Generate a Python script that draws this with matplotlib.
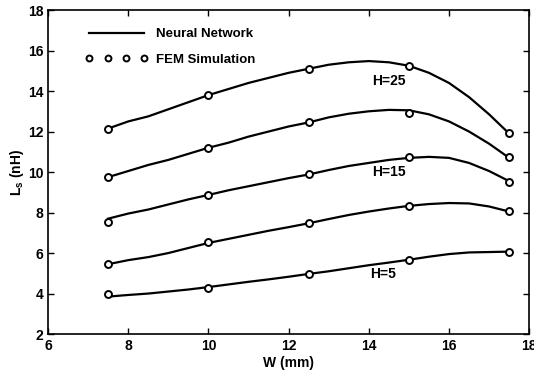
import matplotlib
matplotlib.use("Agg")
import matplotlib.pyplot as plt

plt.rcParams['font.family'] = ['Liberation Sans', 'DejaVu Sans']

# FEM simulation points
w_fem = [7.5, 10, 12.5, 15, 17.5]
fem = {
    5:  [3.98, 4.26, 4.95, 5.65, 6.07],
    10: [5.44, 6.57, 7.47, 8.34, 8.07],
    15: [7.53, 8.86, 9.88, 10.72, 9.52],
    20: [9.78, 11.2, 12.45, 12.93, 10.74],
    25: [12.15, 13.82, 15.07, 15.23, 11.91],
}

# neural network curves, every 0.5 mm
w_nn = [7.5, 8, 8.5, 9, 9.5, 10, 10.5, 11, 11.5, 12, 12.5,
        13, 13.5, 14, 14.5, 15, 15.5, 16, 16.5, 17, 17.5]
nn = {
    5:  [3.85, 3.93, 4.0, 4.1, 4.2, 4.32, 4.45, 4.58, 4.7, 4.83, 4.97,
         5.1, 5.25, 5.4, 5.53, 5.67, 5.82, 5.95, 6.03, 6.05, 6.07],
    10: [5.45, 5.65, 5.8, 6.0, 6.25, 6.5, 6.7, 6.9, 7.1, 7.28, 7.47,
         7.68, 7.88, 8.05, 8.2, 8.33, 8.42, 8.47, 8.45, 8.3, 8.05],
    15: [7.7, 7.95, 8.15, 8.4, 8.65, 8.87, 9.1, 9.3, 9.5, 9.7, 9.88,
         10.1, 10.3, 10.45, 10.6, 10.7, 10.75, 10.7, 10.45, 10.05, 9.55],
    20: [9.75, 10.05, 10.35, 10.6, 10.9, 11.2, 11.45, 11.75, 12.0, 12.25, 12.45,
         12.7, 12.88, 13.0, 13.07, 13.05, 12.85, 12.5, 12.0, 11.4, 10.7],
    25: [12.15, 12.5, 12.75, 13.1, 13.45, 13.8, 14.1, 14.4, 14.65, 14.9, 15.1,
         15.3, 15.42, 15.48, 15.42, 15.25, 14.9, 14.4, 13.7, 12.85, 11.9],
}

labels = {25: (14.5, 14.5), 15: (14.5, 10.0), 5: (14.35, 4.95)}

fig = plt.figure(figsize=(5.34, 3.72), dpi=100)
ax = fig.add_axes([0.09, 0.102, 0.901, 0.871])

for h in [5, 10, 15, 20, 25]:
    ax.plot(w_nn, nn[h], color='black', lw=1.6, solid_joinstyle='round',
            label='Neural Network' if h == 5 else None)
    ax.plot(w_fem, fem[h], 'o', ms=5, mfc='white', mec='black', mew=1.4,
            label='FEM Simulation' if h == 5 else None)

for h, (x, y) in labels.items():
    ax.text(x, y, f'H={h}', ha='center', va='center', fontsize=10, fontweight='bold')

ax.set_xlim(6, 18)
ax.set_ylim(2, 18)
ax.set_xticks(range(6, 19, 2))
ax.set_yticks(range(2, 19, 2))
ax.tick_params(direction='in', top=True, right=True, labelsize=10, length=4, width=1)
for lab in ax.get_xticklabels() + ax.get_yticklabels():
    lab.set_fontweight('bold')
for s in ax.spines.values():
    s.set_linewidth(1.2)

ax.set_xlabel('W (mm)', fontsize=10, fontweight='bold', labelpad=2)
ax.set_ylabel('L$_\\mathregular{s}$ (nH)', fontsize=10, fontweight='bold', labelpad=1)

leg = ax.legend(loc='upper left', numpoints=4, frameon=False,
                prop={'size': 9.5, 'weight': 'bold'}, markerscale=0.85,
                handlelength=4.8, handletextpad=0.55, labelspacing=1.03,
                bbox_to_anchor=(0.055, 0.977), borderaxespad=0.4)

fig.savefig('out.png', dpi=100)
